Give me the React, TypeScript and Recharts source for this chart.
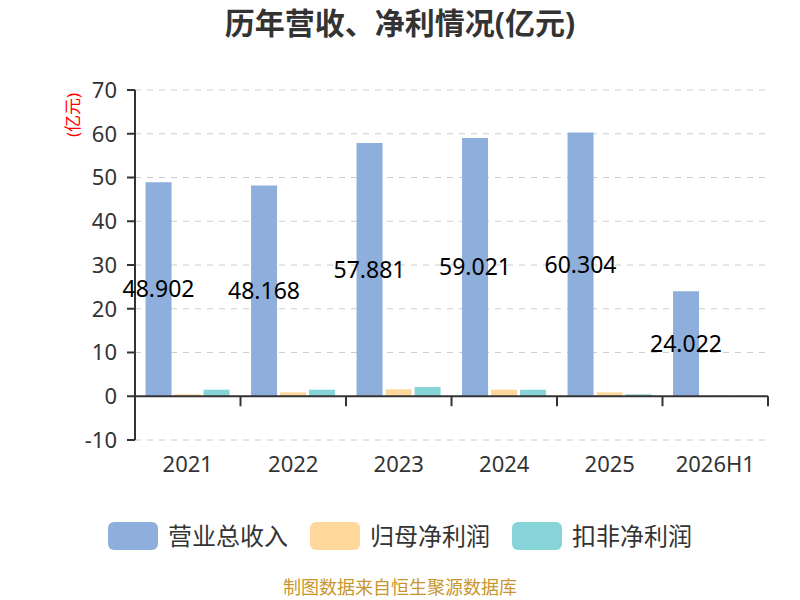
import { Bar, BarChart, CartesianGrid, LabelList, ReferenceLine, XAxis, YAxis } from 'recharts';

const years = ['2021', '2022', '2023', '2024', '2025', '2026H1'];
const revenue = [48.902, 48.168, 57.881, 59.021, 60.304, 24.022];
const netProfit = [0.45, 0.9, 1.6, 1.5, 0.9, 0.15];
const deductedProfit = [1.5, 1.5, 2.1, 1.5, 0.45, 0.1];
const yTicks = [-10, 0, 10, 20, 30, 40, 50, 60, 70];

const series = [
  { key: 'revenue', name: '营业总收入', color: '#8eaedb' },
  { key: 'netProfit', name: '归母净利润', color: '#fed89b' },
  { key: 'deductedProfit', name: '扣非净利润', color: '#86d4d8' },
];

const data = years.map((year, i) => ({
  year,
  revenue: revenue[i],
  netProfit: netProfit[i],
  deductedProfit: deductedProfit[i],
}));

const FONT = '"Noto Sans", "Noto Sans CJK SC", sans-serif';
const TEXT = '#333';

// plot geometry (used only for the category tick marks on the zero line)
const PLOT_LEFT = 135;
const PLOT_RIGHT = 768;
const PLOT_TOP = 90;
const PLOT_BOTTOM = 440;
const Y_MIN = -10;
const Y_MAX = 70;
const zeroY = PLOT_BOTTOM - ((0 - Y_MIN) / (Y_MAX - Y_MIN)) * (PLOT_BOTTOM - PLOT_TOP);
const band = (PLOT_RIGHT - PLOT_LEFT) / years.length;

function XTick(props: any) {
  const { x, y, payload, index } = props;
  const left = x - band / 2;
  return (
    <g>
      <line x1={left} x2={left} y1={zeroY} y2={zeroY + 10} stroke={TEXT} strokeWidth={2} />
      {index === years.length - 1 && (
        <line x1={x + band / 2} x2={x + band / 2} y1={zeroY} y2={zeroY + 10} stroke={TEXT} strokeWidth={2} />
      )}
      <text x={x} y={y} dy="0.71em" textAnchor="middle" fill={TEXT} fontSize={22} fontFamily={FONT}>
        {payload.value}
      </text>
    </g>
  );
}

export default function App() {
  return (
    <div style={{ position: 'relative', width: 800, height: 600, background: '#fff', fontFamily: FONT }}>
      <style>{'body{margin:0}'}</style>
      <div
        style={{
          position: 'absolute',
          top: 4,
          left: 0,
          width: 800,
          textAlign: 'center',
          fontSize: 30,
          fontWeight: 'bold',
          color: TEXT,
          lineHeight: '38px',
        }}
      >
        历年营收、净利情况(亿元)
      </div>
      <div
        style={{
          position: 'absolute',
          left: 73,
          top: 115,
          transform: 'translate(-50%, -50%) rotate(-90deg)',
          color: 'red',
          fontSize: 17,
          lineHeight: '20px',
          whiteSpace: 'nowrap',
        }}
      >
        (亿元)
      </div>
      <BarChart
        width={800}
        height={600}
        data={data}
        margin={{ top: PLOT_TOP, right: 800 - PLOT_RIGHT, left: 0, bottom: 120 }}
        barCategoryGap="10%"
        barGap={3}
      >
        <CartesianGrid vertical={false} stroke="#ccc" strokeDasharray="6 6" />
        <XAxis
          dataKey="year"
          axisLine={false}
          tickLine={false}
          height={40}
          tickSize={6}
          tickMargin={10}
          interval={0}
          tick={<XTick />}
        />
        <YAxis
          width={PLOT_LEFT}
          domain={[Y_MIN, Y_MAX]}
          ticks={yTicks}
          interval={0}
          axisLine={{ stroke: TEXT, strokeWidth: 2 }}
          tickLine={{ stroke: TEXT, strokeWidth: 2 }}
          tickSize={8}
          tickMargin={10}
          tick={{ fill: TEXT, fontSize: 22, fontFamily: FONT }}
        />
        <ReferenceLine y={0} stroke={TEXT} strokeWidth={2} />
        {series.map(s => (
          <Bar key={s.key} dataKey={s.key} name={s.name} fill={s.color} isAnimationActive={false}>
            {s.key === 'revenue' && (
              <LabelList
                dataKey="revenue"
                position="center"
                fill="#000"
                fontSize={23}
                fontFamily={FONT}
                formatter={(v: any) => Number(v).toFixed(3)}
              />
            )}
          </Bar>
        ))}
      </BarChart>
      <div
        style={{
          position: 'absolute',
          top: 522,
          left: 0,
          width: 800,
          display: 'flex',
          justifyContent: 'center',
          alignItems: 'center',
        }}
      >
        {series.map((s, i) => (
          <div key={s.key} style={{ display: 'flex', alignItems: 'center', marginLeft: i ? 22 : 0 }}>
            <div style={{ width: 50, height: 28, borderRadius: 6, background: s.color }} />
            <span style={{ marginLeft: 10, fontSize: 24, lineHeight: '28px', color: TEXT }}>{s.name}</span>
          </div>
        ))}
      </div>
      <div
        style={{
          position: 'absolute',
          top: 577,
          left: 0,
          width: 800,
          textAlign: 'center',
          fontSize: 18,
          lineHeight: '21px',
          color: '#c8962e',
        }}
      >
        制图数据来自恒生聚源数据库
      </div>
    </div>
  );
}
